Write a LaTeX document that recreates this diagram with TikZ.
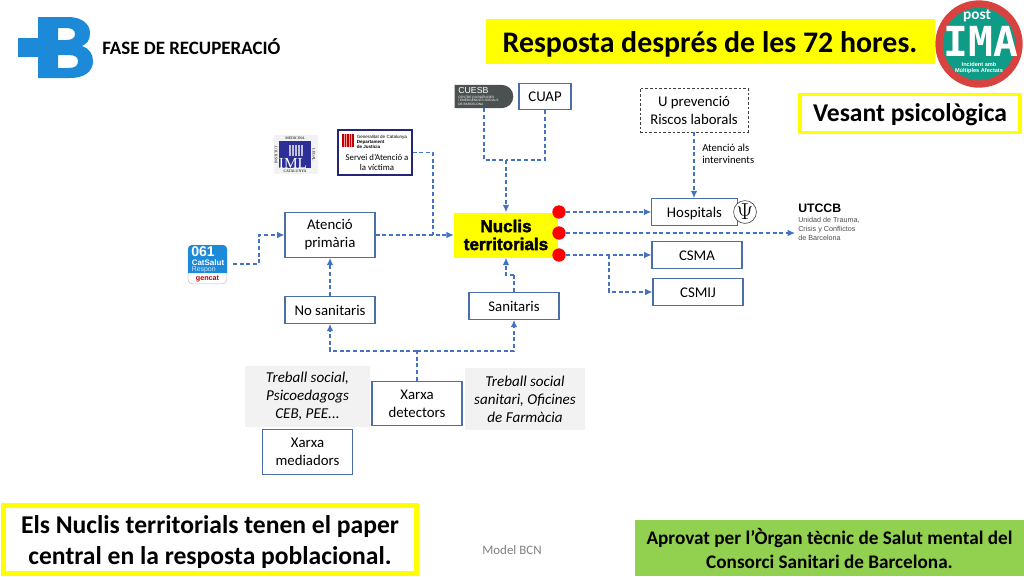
\documentclass[tikz,border=0pt]{standalone}
\usepackage{fontspec}
\setmainfont{Carlito}
\newfontfamily\heavyfont[FakeBold=2.2]{Liberation Sans}
\newfontfamily\logofont{Liberation Sans}
\newfontfamily\slabfont{DejaVu Sans Mono}
\newfontfamily\seriffont{Liberation Serif}
\usetikzlibrary{shapes.misc, arrows.meta, positioning, calc}
\definecolor{linkblue}{HTML}{4472C4}
\definecolor{boxblue}{HTML}{4A6FA8}
\definecolor{markyellow}{HTML}{FFFF00}
\definecolor{signgreen}{HTML}{92D050}
\definecolor{softgray}{HTML}{F2F2F2}
\definecolor{logoblue}{HTML}{1C8AD8}
\definecolor{imared}{HTML}{D8433F}
\definecolor{imateal}{HTML}{0E9C86}
\definecolor{cuesbgray}{HTML}{4A5150}
\definecolor{imlblue}{HTML}{2E2F96}
\begin{document}
\begin{tikzpicture}[x=0.75pt, y=-0.75pt,
    every node/.style={font=\fontsize{11.1}{13.5}\selectfont, align=center, inner sep=0pt},
    box/.style={draw=boxblue, line width=0.85pt, fill=white, minimum width=67.5pt, minimum height=20pt},
    onebox/.style={box, text height=9pt, text depth=1.5pt},
    tallbox/.style={box, minimum height=33.5pt},
    arr/.style={-{Latex[length=5.5pt, width=5pt]}, line width=0.9pt, color=linkblue, dash pattern=on 3pt off 2pt},
    lnk/.style={line width=0.9pt, color=linkblue, dash pattern=on 3pt off 2pt},
    dot/.style={circle, fill=red, minimum size=10pt},
    graybox/.style={fill=softgray, font=\fontsize{11.3}{13.5}\selectfont\itshape},
    smalltxt/.style={font=\fontsize{8}{9}\selectfont},
    tinytxt/.style={font=\logofont\fontsize{3.4}{3.9}\selectfont, align=left}
]
    \useasboundingbox (0,0) rectangle (1024,576);

    % header
    \fill[logoblue] (18,38) rectangle (40,57);
    \fill[logoblue, even odd rule] (38,17) -- (68,17) .. controls (82,17) and (90,24) .. (90,33)
        .. controls (90,40) and (87,44) .. (82,46) .. controls (89,48) and (93,54) .. (93,61)
        .. controls (93,72) and (84,78) .. (70,78) -- (38,78) -- cycle
        (58,28) -- (58,40) -- (66,40) .. controls (72,40) and (75,38) .. (75,34)
        .. controls (75,30) and (72,28) .. (66,28) -- cycle
        (58,55) -- (58,68) -- (68,68) .. controls (75,68) and (78,66) .. (78,61)
        .. controls (78,57) and (75,55) .. (68,55) -- cycle;
    \node[anchor=west, font=\fontsize{14.2}{16}\selectfont\bfseries] (fase) at (102,47) {FASE DE RECUPERACIÓ};
    \node[fill=markyellow, minimum width=336.75pt, minimum height=33.75pt] (titol) at (710.5,41.5) {};
    \node[font=\fontsize{22.4}{28}\selectfont\bfseries] (titoltxt) at (710,44) {Resposta després de les 72 hores.};

    % post IMA
    \node[circle, fill=imateal, draw=imared, line width=5.5pt, minimum size=60pt] (ima) at (979,44) {};
    \node[font=\fontsize{11.5}{12}\selectfont\bfseries, text=white] (imapost) at (977,16) {post};
    \node[font=\slabfont\fontsize{31}{31}\selectfont\bfseries, text=white] (imatxt) at (981,41) {IMA};
    \node[font=\logofont\fontsize{4.2}{5}\selectfont\bfseries, text=white] (imasub) at (979,68) {Incident amb\\Múltiples Afectats};

    \node[draw=markyellow, line width=2.4pt, minimum width=165pt, minimum height=28pt] (vesant) at (910,113.5) {};
    \node[font=\fontsize{19.2}{23}\selectfont\bfseries] (vesanttxt) at (910,115) {Vesant psicològica};

    % top sources
    \node[rounded rectangle, rounded rectangle left arc=none, fill=cuesbgray, minimum width=44pt, minimum height=17.5pt] (cuesb) at (484,96.5) {};
    \node[anchor=west, text=white, font=\logofont\fontsize{6.6}{7}\selectfont] (cuesbtxt) at (458,90) {CUESB};
    \node[tinytxt, anchor=north west, text=white, font=\logofont\fontsize{2.4}{2.9}\selectfont] (cuesbsub) at (458,95) {CENTRE D'URGÈNCIES\\I EMERGÈNCIES SOCIALS\\DE BARCELONA};
    \node[onebox, minimum width=39pt] (cuap) at (545,96.5) {CUAP};
    \node[draw=black!75, dash pattern=on 2pt off 1.5pt, line width=0.7pt, minimum width=81pt, minimum height=33pt] (uprev) at (694,110) {U prevenció\\Riscos laborals};
    \node[smalltxt, align=left, anchor=north west] (interv) at (702,144) {Atenció als\\intervinents};

    % left column
    \node[fill=softgray, minimum width=33pt, minimum height=29pt] (iml) at (295.5,154.5) {};
    \node[fill=imlblue, minimum width=24pt, minimum height=20pt] (imlsq) at (295,154.5) {};
    \foreach \xcol in {290,293,296,299,302}
        \draw[white!70!imlblue, line width=0.8pt] (\xcol,145) -- (\xcol,156);
    \node[font=\seriffont\fontsize{11.5}{12}\selectfont, text=white] (imltxt) at (293,163) {IML};
    \node[font=\seriffont\fontsize{2.9}{3}\selectfont] (imltop) at (295,138) {MEDICINA};
    \node[font=\seriffont\fontsize{2.9}{3}\selectfont] (imlbot) at (295,171) {CATALUNYA};
    \node[font=\seriffont\fontsize{2.9}{3}\selectfont, rotate=90] (imlleft) at (276,155) {INSTITUT};
    \node[font=\seriffont\fontsize{2.9}{3}\selectfont, rotate=-90] (imlright) at (314,155) {LEGAL};

    \node[draw=imlblue!80!black, line width=0.9pt, minimum width=55.5pt, minimum height=33.75pt] (servei) at (375,152.5) {};
    \fill[red!75!black] (342,134) rectangle (354,147);
    \foreach \xbar in {344,346.5,349,351.5}
        \draw[white!60!red, line width=0.3pt] (\xbar,134) -- (\xbar,147);
    \node[tinytxt, anchor=north west] (gencat) at (356.5,134.5) {Generalitat de Catalunya\\\textbf{Departament}\\\textbf{de Justícia}};
    \node[font=\fontsize{6.6}{7.6}\selectfont] (serveitxt) at (377,162) {Servei d'Atenció a\\la víctima};

    \node[tallbox] (primaria) at (330,235) {Atenció\\primària};
    \node[onebox] (nosan) at (330,310) {No sanitaris};

    % 061 badge
    \node[draw=black!25, line width=0.4pt, fill=white, rounded corners=3pt, minimum width=29pt, minimum height=29pt] (cat) at (207.5,264.5) {};
    \fill[logoblue] (188,273) [rounded corners=3pt] -- (188,245) -- (227,245) [sharp corners] -- (227,273) -- cycle;
    \node[anchor=west, text=white, font=\logofont\fontsize{10.6}{11}\selectfont\bfseries] (cattxt) at (191,252) {061};
    \node[anchor=west, text=white, font=\logofont\fontsize{6}{6}\selectfont\bfseries] (catsal) at (191.5,262.5) {CatSalut};
    \node[anchor=west, text=white!80!logoblue, font=\logofont\fontsize{5.2}{5.5}\selectfont] (catres) at (191.5,269.5) {Respon};
    \node[text=red!75!black, font=\logofont\fontsize{5.4}{5.5}\selectfont\bfseries] (catgen) at (207.5,278.5) {gencat};
    \coordinate (catout) at (233,264);

    % central node
    \node[fill=markyellow, minimum width=78pt, minimum height=33.75pt] (nuclis) at (506,235) {};
    \node[font=\heavyfont\fontsize{12.8}{13.5}\selectfont\bfseries] (nuclistxt) at (506,235) {Nuclis\\territorials};
    \node[dot] (dota) at (559,212) {};
    \node[dot] (dotb) at (559,233) {};
    \node[dot] (dotc) at (559,255) {};

    % right column
    \node[onebox, minimum width=64pt] (hosp) at (694.5,212) {Hospitals};
    \node[circle, draw=black!70, fill=white, line width=0.5pt, minimum size=14pt, font=\seriffont\fontsize{17}{17}\selectfont] (psi) at (745,212) {$\Psi$};
    \node[onebox] (csma) at (697,255) {CSMA};
    \node[onebox] (csmij) at (698,292) {CSMIJ};
    \node[anchor=north west, align=left, font=\logofont\fontsize{5.4}{6.6}\selectfont, text=black!70] (utccbsub) at (798,217.5)
        {Unidad de Trauma,\\Crisis y Conflictos\\de Barcelona};
    \node[anchor=west, font=\logofont\fontsize{9.2}{10}\selectfont\bfseries] (utccb) at (798,208) {UTCCB};
    \coordinate (utccbin) at (795,233);

    % lower boxes
    \node[onebox] (sanit) at (514,306) {Sanitaris};
    \node[graybox, minimum width=94pt, minimum height=46pt] (graya) at (307.5,396.5) {Treball social,\\Psicoedagogs\\CEB, PEE...};
    \node[graybox, minimum width=90pt, minimum height=46.5pt] (grayb) at (525,399) {Treball social\\sanitari, Oficines\\de Farmàcia};
    \node[tallbox] (detect) at (417,403.5) {Xarxa\\detectors};
    \node[tallbox] (media) at (307.5,452) {Xarxa\\mediadors};

    % bottom
    \node[draw=markyellow, line width=4pt, minimum width=310pt, minimum height=51pt] (paper) at (210,539.5) {};
    \node[font=\fontsize{19.2}{23.5}\selectfont\bfseries] (papertxt) at (210,542)
        {Els Nuclis territorials tenen el paper\\central en la resposta poblacional.};
    \node[font=\fontsize{9.7}{10}\selectfont, text=black!50] (model) at (512,550) {Model BCN};
    \node[fill=signgreen, minimum width=292pt, minimum height=42pt, font=\fontsize{14.4}{18}\selectfont\bfseries] (aprovat) at (829.5,548)
        {Aprovat per l'Òrgan tècnic de Salut mental del\\Consorci Sanitari de Barcelona.};

    % connectors
    \coordinate (jointop) at (506,160);
    \coordinate (joinlow) at (417,351);
    \coordinate (sanbend) at (514,275);
    \coordinate (csmbend) at (609,255);
    \coordinate (atenjoin) at (433,235);

    \draw[lnk] (cuesb.south) |- (jointop);
    \draw[lnk] (cuap.south) |- (jointop);
    \draw[arr] (jointop) -- (nuclis.north);
    \draw[arr] (uprev.south) -- (hosp.north -| uprev.south);
    \draw[arr] (catout) -- (259,264) |- (primaria.west);
    \draw[arr] (primaria.east) -- (nuclis.west);
    \draw[lnk] (servei.east) -| (atenjoin);
    \draw[arr] (nosan.north) -- (primaria.south);
    \draw[lnk] (detect.north) -- (joinlow);
    \draw[arr] (joinlow) -| (nosan.south);
    \draw[arr] (joinlow) -| (sanit.south);
    \draw[lnk] (sanit.north) -- (sanbend);
    \draw[arr] (sanbend) -| (nuclis.south);
    \draw[arr] (dota.east) -- (hosp.west);
    \draw[arr] (dotb.east) -- (utccbin);
    \draw[arr] (dotc.east) -- (csma.west);
    \draw[arr] (csmbend) |- (csmij.west);
\end{tikzpicture}
\end{document}
